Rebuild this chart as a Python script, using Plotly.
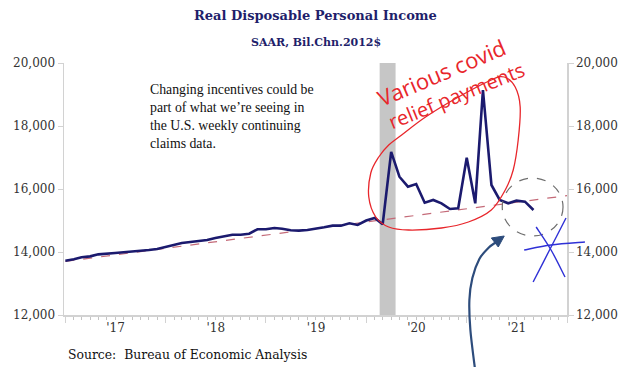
import plotly.graph_objects as go
import pandas as pd

# ---------------- data ----------------
months = pd.date_range("2017-01-01", "2021-09-01", freq="MS")
rdpi = [13724, 13767, 13831, 13862, 13926, 13958, 13968, 13990, 14010, 14042, 14063, 14095,
        14169, 14243, 14286, 14317, 14339, 14381, 14444, 14508, 14550, 14550, 14582, 14720,
        14720, 14762, 14740, 14688, 14677, 14698, 14730, 14783, 14836, 14836, 14910, 14857,
        15000, 15080, 14880, 17180, 16390, 16073, 16159, 15565, 15651, 15545, 15365, 15386,
        16993, 15545, 19143, 16127, 15651, 15545, 15630, 15597, 15333]
trend_dates = ["2017-01-01", "2022-01-01"]
trend_vals = [13700, 15790]
recession = ["2020-02-19", "2020-04-17"]
y_ticks = [12000, 14000, 16000, 18000, 20000]

title = "Real Disposable Personal Income"
subtitle = "SAAR, Bil.Chn.2012$"
note_lines = ["Changing incentives could be", "part of what we\u2019re seeing in",
              "the U.S. weekly continuing", "claims data."]
source = "Source:  Bureau of Economic Analysis"
hand_lines = ["Various covid", "relief payments"]

# ---------------- layout helpers (pixel -> paper) ----------------
W, H = 630, 367
L, R, T, B = 64, 61, 63, 52
PW, PH = W - L - R, H - T - B


def fx(px):
    return (px - L) / PW


def fy(py):
    return (H - B - py) / PH


def smooth_closed(pts):
    n = len(pts)
    P = [(fx(x), fy(y)) for x, y in pts]
    s = "M %.5f,%.5f" % P[0]
    for i in range(n):
        p0, p1, p2, p3 = P[i - 1], P[i], P[(i + 1) % n], P[(i + 2) % n]
        c1 = (p1[0] + (p2[0] - p0[0]) / 6, p1[1] + (p2[1] - p0[1]) / 6)
        c2 = (p2[0] - (p3[0] - p1[0]) / 6, p2[1] - (p3[1] - p1[1]) / 6)
        s += " C %.5f,%.5f %.5f,%.5f %.5f,%.5f" % (c1 + c2 + p2)
    return s


def smooth_open(pts):
    P = [(fx(x), fy(y)) for x, y in pts]
    n = len(P)
    s = "M %.5f,%.5f" % P[0]
    for i in range(n - 1):
        p0 = P[i - 1] if i > 0 else P[i]
        p1, p2 = P[i], P[i + 1]
        p3 = P[i + 2] if i + 2 < n else P[i + 1]
        c1 = (p1[0] + (p2[0] - p0[0]) / 6, p1[1] + (p2[1] - p0[1]) / 6)
        c2 = (p2[0] - (p3[0] - p1[0]) / 6, p2[1] - (p3[1] - p1[1]) / 6)
        s += " C %.5f,%.5f %.5f,%.5f %.5f,%.5f" % (c1 + c2 + p2)
    return s


def poly(pts, close=False):
    s = " ".join(("M" if i == 0 else "L") + " %.5f,%.5f" % (fx(x), fy(y)) for i, (x, y) in enumerate(pts))
    return s + (" Z" if close else "")


NAVY = "#1b1a6e"
AXIS = "#d2d2d2"
TICKF = dict(family="DejaVu Serif", size=12, color="#333333")

fig = go.Figure()
fig.add_trace(go.Scatter(x=trend_dates, y=trend_vals, mode="lines",
                         line=dict(color="#c46a78", width=1.2, dash="dash"), hoverinfo="skip"))
fig.add_trace(go.Scatter(x=months, y=rdpi, mode="lines",
                         line=dict(color=NAVY, width=2.6), hoverinfo="skip"))
fig.add_trace(go.Scatter(x=[months[0]], y=[rdpi[0]], yaxis="y2", mode="markers",
                         marker=dict(opacity=0), hoverinfo="skip"))

shapes = [
    dict(type="rect", xref="x", yref="paper", x0=recession[0], x1=recession[1], y0=0, y1=1,
         fillcolor="#c6c6c6", line=dict(width=0), layer="below"),
    # red hand-drawn ellipse
    dict(type="path", xref="paper", yref="paper", line=dict(color="#e8262b", width=1.3),
         path=smooth_closed([(506, 77), (517, 87), (522, 107), (520, 140), (515, 170), (507, 190),
                             (493, 210), (470, 222), (443, 228), (410, 230), (390, 227), (377, 217),
                             (370, 197), (372, 173), (380, 157), (390, 145), (403, 135), (427, 117),
                             (460, 97), (493, 80)])),
    # grey dashed circle
    dict(type="circle", xref="paper", yref="paper", x0=fx(504), x1=fx(565), y0=fy(236), y1=fy(178),
         line=dict(color="#6e6e6e", width=1.2, dash="dash")),
    # blue curved arrow
    dict(type="path", xref="paper", yref="paper", line=dict(color="#2d4c7c", width=2.2),
         path=smooth_open([(477, 372), (472, 330), (471, 300), (474, 278), (481, 259), (490, 248), (498, 242)])),
    dict(type="path", xref="paper", yref="paper", line=dict(color="#2d4c7c", width=1),
         fillcolor="#2d4c7c", path=poly([(506, 236), (500, 247), (493, 238)], close=True)),
    # blue asterisk
    dict(type="path", xref="paper", yref="paper", line=dict(color="#2f31d6", width=1.4),
         path=smooth_open([(526, 250), (553, 245), (587, 242)])),
    dict(type="path", xref="paper", yref="paper", line=dict(color="#2f31d6", width=1.4),
         path=smooth_open([(535, 282), (552, 249), (568, 218)])),
    dict(type="path", xref="paper", yref="paper", line=dict(color="#2f31d6", width=1.4),
         path=smooth_open([(538, 227), (553, 250), (567, 277)])),
]

ann = [
    dict(text="<b>%s</b>" % title, x=fx(317), y=fy(15), font=dict(family="DejaVu Serif", size=13, color="#1f1f6b")),
    dict(text="<b>%s</b>" % subtitle, x=fx(317), y=fy(42), font=dict(family="DejaVu Serif", size=11, color="#1f1f6b")),
    dict(text=source, x=fx(66), y=fy(355), xanchor="left", font=dict(family="DejaVu Serif", size=12.4, color="#111111")),
]
for i, t in enumerate(note_lines):
    ann.append(dict(text=t, x=fx(148), y=fy(89 + 18 * i), xanchor="left",
                    font=dict(family="Liberation Serif", size=13.8, color="#111111")))
ann.append(dict(text=hand_lines[0], x=fx(443), y=fy(72), textangle=-23,
                font=dict(family="Open Sans", size=22, color="#e8262b")))
ann.append(dict(text=hand_lines[1], x=fx(458), y=fy(95), textangle=-22,
                font=dict(family="Open Sans", size=20, color="#e8262b")))
for a in ann:
    a.setdefault("xanchor", "center")
    a.update(xref="paper", yref="paper", yanchor="middle", showarrow=False)

yax = dict(range=[12000, 20000], tickvals=y_ticks, tickformat=",", showgrid=False, zeroline=False,
           showline=True, linecolor=AXIS, linewidth=1.5, ticks="outside", ticklen=5, tickcolor=AXIS,
           tickfont=TICKF, fixedrange=True)

fig.update_layout(
    width=W, height=H, margin=dict(l=L, r=R, t=T, b=B),
    paper_bgcolor="white", plot_bgcolor="white", showlegend=False,
    xaxis=dict(type="date", range=["2016-12-27", "2022-01-01"], tick0="2017-01-01", dtick="M12",
               ticklabelmode="period", tickformat="'%y", showgrid=False, zeroline=False,
               showline=True, linecolor=AXIS, linewidth=1.5, ticks="outside", ticklen=6,
               tickcolor=AXIS, tickfont=TICKF, ticklabelstandoff=-5, fixedrange=True,
               minor=dict(dtick="M1", ticks="outside", ticklen=3, tickcolor="#c4c4c4", showgrid=False)),
    yaxis=yax,
    yaxis2=dict(yax, overlaying="y", side="right"),
    shapes=shapes, annotations=ann,
)

fig.write_html("out.html", config={"displayModeBar": False, "staticPlot": True},
               post_script="document.body.style.margin='0';document.body.style.overflow='hidden';")
